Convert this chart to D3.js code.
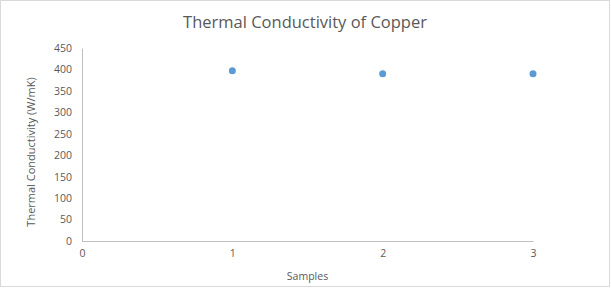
<!DOCTYPE html>
<html>
<head>
<meta charset="utf-8">
<style>
  body { margin: 0; background: #fff; }
  text { font-family: "Open Sans", "Noto Sans", sans-serif; fill: #595959; }
</style>
</head>
<body>
<svg class="chart"></svg>
<script src="https://cdn.jsdelivr.net/npm/d3@7"></script>
<script>
var samples = [1, 2, 3]
var conductivity = [397, 390, 390]
var xTicks = [0, 1, 2, 3]
var yTicks = [0, 50, 100, 150, 200, 250, 300, 350, 400, 450]

var width = 611, height = 288
var margin = {top: 48, right: 78, bottom: 47, left: 82}

var svg = d3.select(".chart")
    .attr("width", width)
    .attr("height", height)

// outer chart border
svg.append("rect")
    .attr("x", 0.5).attr("y", 0.5)
    .attr("width", width - 2).attr("height", height - 2)
    .attr("fill", "#fff")
    .attr("stroke", "#d9d9d9")

var x = d3.scaleLinear().domain([0, 3]).range([margin.left, width - margin.right])
var y = d3.scaleLinear().domain([0, 450]).range([height - margin.bottom, margin.top])

var xAxis = svg.append("g")
    .attr("transform", "translate(0," + y(0) + ")")
    .call(d3.axisBottom(x).tickValues(xTicks).tickSize(0).tickPadding(9).tickFormat(d3.format("d")))
xAxis.select(".domain").attr("stroke", "#bfbfbf")
xAxis.selectAll("text").style("font-size", "10.5px").attr("fill", "#595959")

var yAxis = svg.append("g")
    .attr("transform", "translate(" + x(0) + ",0)")
    .call(d3.axisLeft(y).tickValues(yTicks).tickSize(0).tickPadding(10))
yAxis.select(".domain").attr("stroke", "#bfbfbf")
yAxis.selectAll("text").style("font-size", "10.5px").attr("fill", "#595959")

svg.selectAll("g").attr("font-family", null)

svg.selectAll(".pt")
    .data(samples)
    .enter().append("circle")
    .attr("class", "pt")
    .attr("cx", function(d) { return x(d) })
    .attr("cy", function(d, i) { return y(conductivity[i]) })
    .attr("r", 3.5)
    .attr("fill", "#5b9bd5")

svg.append("text")
    .attr("x", 305).attr("y", 28)
    .attr("text-anchor", "middle")
    .style("font-size", "16.5px")
    .text("Thermal Conductivity of Copper")

svg.append("text")
    .attr("x", (x(0) + x(3)) / 2).attr("y", 280)
    .attr("text-anchor", "middle")
    .style("font-size", "10.5px")
    .text("Samples")

svg.append("text")
    .attr("transform", "translate(35,152)rotate(-90)")
    .attr("text-anchor", "middle")
    .style("font-size", "11px")
    .text("Thermal Conductivity (W/mK)")
</script>
</body>
</html>
